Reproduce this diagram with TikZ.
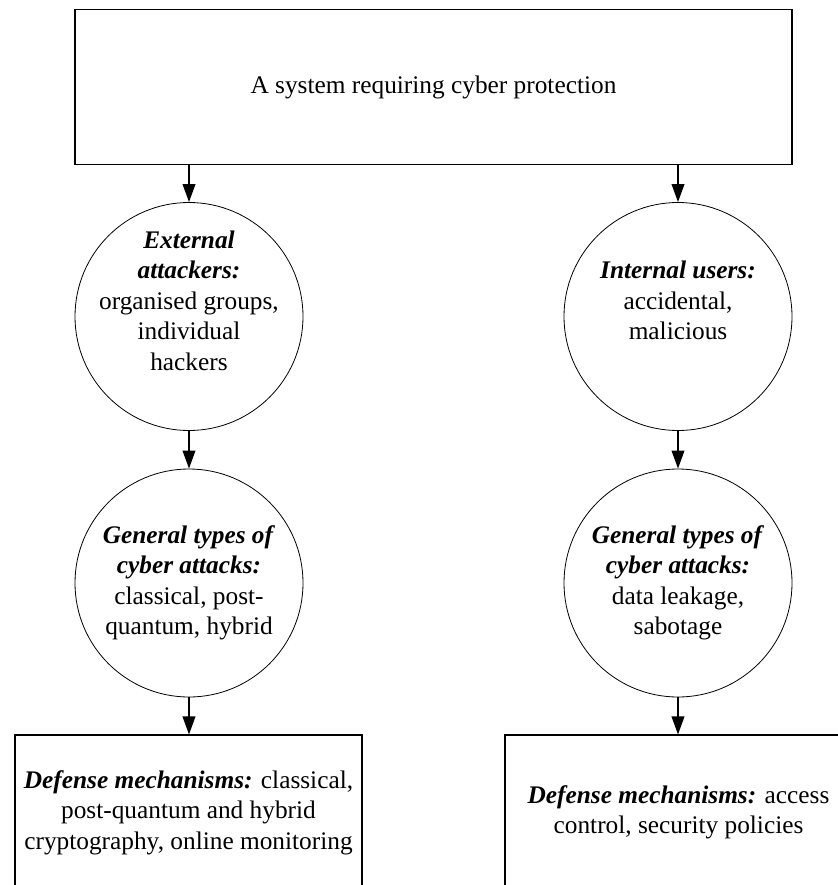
\documentclass[tikz,border=0pt]{standalone}
\usepackage{fontspec}
\setmainfont{Liberation Serif}
\usetikzlibrary{arrows.meta}
\newcommand{\hd}[1]{\textbf{\textit{#1}}}
\begin{document}
\begin{tikzpicture}[x=0.75pt,y=-0.75pt,
  every node/.style={font=\fontsize{19}{22.9}\selectfont, align=center, inner sep=0pt},
  mainbox/.style={draw, line width=0.8pt, minimum width=537.75pt, minimum height=116.25pt},
  defbox/.style={draw, line width=0.8pt, minimum width=260.25pt, minimum height=116.25pt},
  threat/.style={draw, circle, line width=0.6pt, minimum size=171pt},
  flow/.style={line width=1.2pt, -{Triangle[length=13.5pt,width=9.5pt]}}
]
\useasboundingbox (0,0) rectangle (838,885);
\clip (0,0) rectangle (838,885);

% protected system
\node[mainbox] (sys) at (433.5,87.2) {A system requiring cyber protection};

% threat sources (text sits a little above the circle centre)
\node[threat] (ext) at (189,316.5) {};
\node (exttxt) at ([yshift=12pt]ext.center) {\hd{External}\\\hd{attackers:}\\organised groups,\\individual\\hackers};
\node[threat] (int) at (678,316.5) {};
\node (inttxt) at ([yshift=12pt]int.center) {\hd{Internal users:}\\accidental,\\malicious};

% attack types
\node[threat] (extatt) at (189,583) {\hd{General types of}\\\hd{cyber attacks:}\\classical, post-\\quantum, hybrid};
\node[threat] (intatt) at (678,583) {\hd{General types of}\\\hd{cyber attacks:}\\data leakage,\\sabotage};

% defenses
\node[defbox] (extdef) at (188.5,812.5) {\hd{Defense mechanisms:} classical,\\post-quantum and hybrid\\cryptography, online monitoring};
\node[defbox] (intdef) at (678.5,812.5) {\hd{Defense mechanisms:} access\\control, security policies};

% flow arrows
\draw[flow] (sys.south -| ext.north) -- (ext.north);
\draw[flow] (sys.south -| int.north) -- (int.north);
\draw[flow] (ext.south) -- (extatt.north);
\draw[flow] (int.south) -- (intatt.north);
\draw[flow] (extatt.south) -- (extdef.north -| extatt.south);
\draw[flow] (intatt.south) -- (intdef.north -| intatt.south);
\end{tikzpicture}
\end{document}
